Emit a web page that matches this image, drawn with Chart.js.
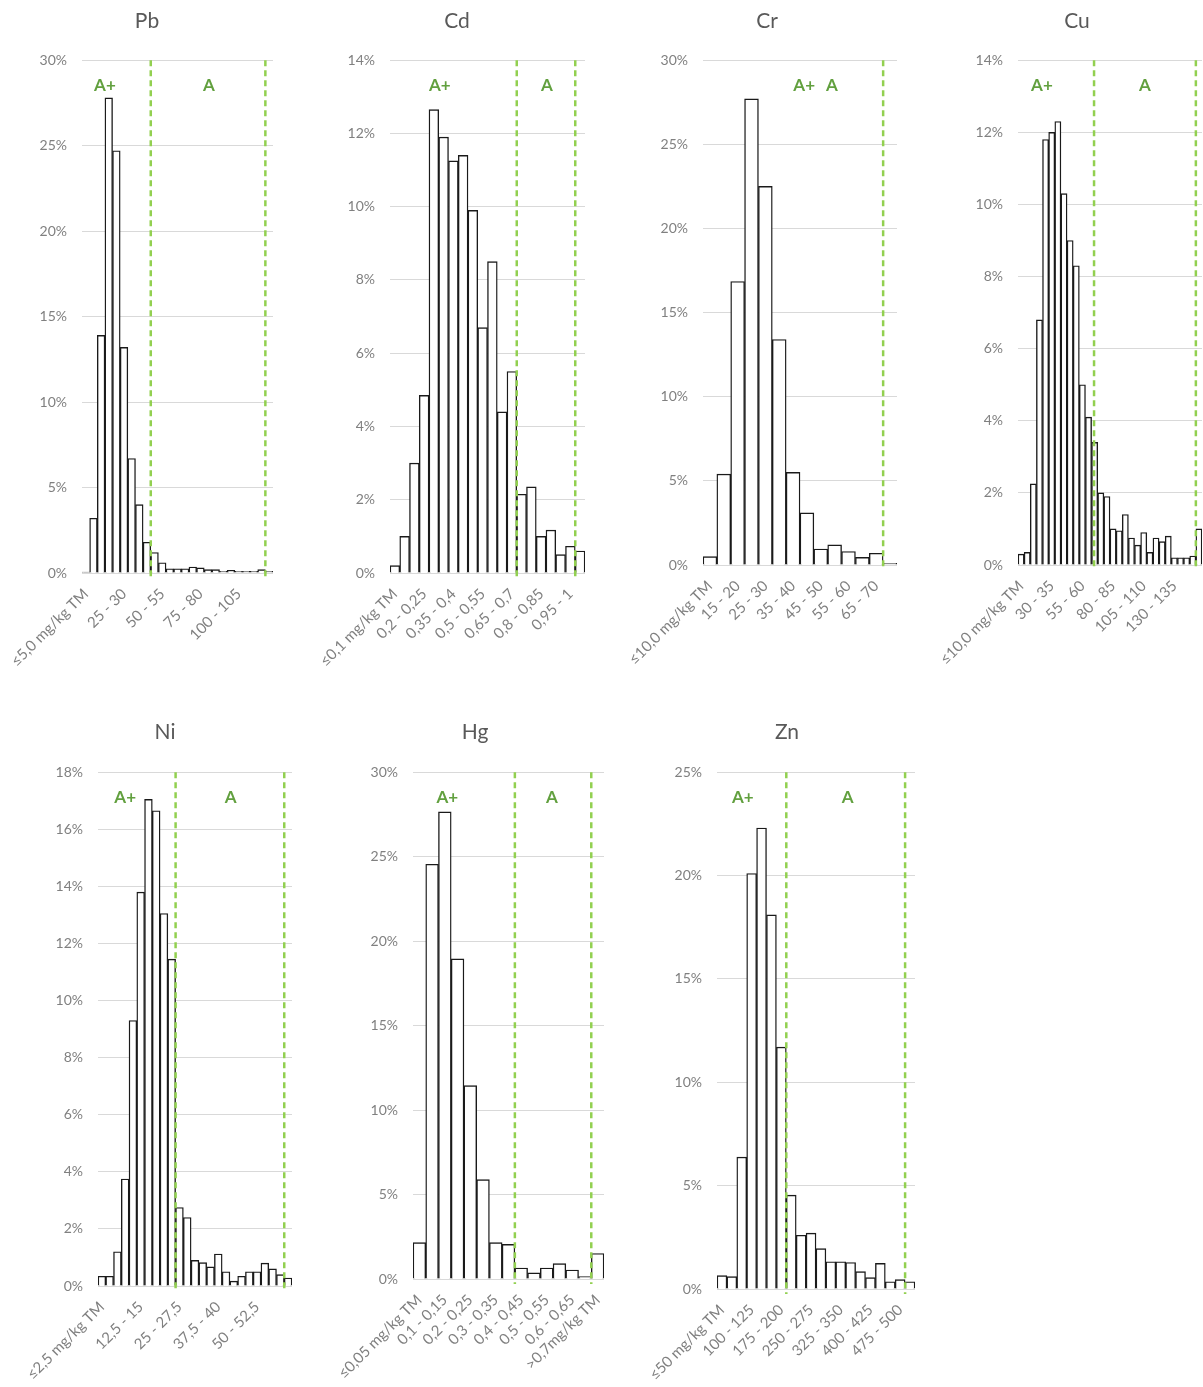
<!DOCTYPE html>
<html>
<head>
<meta charset="utf-8">
<script src="https://cdn.jsdelivr.net/npm/chart.js@4.4.1/dist/chart.umd.min.js"></script>
<style>
  html, body { margin: 0; padding: 0; background: #fff; overflow: hidden; }
  body { width: 1203px; height: 1387px; position: relative; }
  canvas { position: absolute; }
</style>
</head>
<body>
<script>
// histogram data, share of samples (%) per concentration class

const pbLabels = ['≤5,0 mg/kg TM', '5 - 10', '10 - 15', '15 - 20', '20 - 25', '25 - 30', '30 - 35', '35 - 40', '40 - 45', '45 - 50',
  '50 - 55', '55 - 60', '60 - 65', '65 - 70', '70 - 75', '75 - 80', '80 - 85', '85 - 90', '90 - 95', '95 - 100',
  '100 - 105', '105 - 110', '110 - 115', '115 - 120', '>120 mg/kg TM'];
const pbValues = [0.05, 3.2, 13.9, 27.8, 24.7, 13.2, 6.7, 4.0, 1.8, 1.2, 0.6, 0.25, 0.25, 0.25, 0.35, 0.3, 0.2, 0.2, 0.1, 0.15, 0.1, 0.1, 0.1, 0.2, 0.1];
const pbLimits = [9, 24];

const cdLabels = ['≤0,1 mg/kg TM', '0,1 - 0,15', '0,15 - 0,2', '0,2 - 0,25', '0,25 - 0,3', '0,3 - 0,35', '0,35 - 0,4', '0,4 - 0,45', '0,45 - 0,5', '0,5 - 0,55',
  '0,55 - 0,6', '0,6 - 0,65', '0,65 - 0,7', '0,7 - 0,75', '0,75 - 0,8', '0,8 - 0,85', '0,85 - 0,9', '0,9 - 0,95', '0,95 - 1', '>1 mg/kg TM'];
const cdValues = [0.2, 1.0, 3.0, 4.85, 12.65, 11.9, 11.25, 11.4, 9.9, 6.7, 8.5, 4.4, 5.5, 2.15, 2.35, 1.0, 1.17, 0.5, 0.73, 0.6];
const cdLimits = [13, 19];

const crLabels = ['≤10,0 mg/kg TM', '10 - 15', '15 - 20', '20 - 25', '25 - 30', '30 - 35', '35 - 40', '40 - 45', '45 - 50', '50 - 55',
  '55 - 60', '60 - 65', '65 - 70', '>70 mg/kg TM'];
const crValues = [0.5, 5.4, 16.85, 27.7, 22.5, 13.4, 5.5, 3.1, 0.95, 1.2, 0.8, 0.45, 0.7, 0.1];
const crLimits = [13];

const cuLabels = ['≤10,0 mg/kg TM', '10 - 15', '15 - 20', '20 - 25', '25 - 30', '30 - 35', '35 - 40', '40 - 45', '45 - 50', '50 - 55',
  '55 - 60', '60 - 65', '65 - 70', '70 - 75', '75 - 80', '80 - 85', '85 - 90', '90 - 95', '95 - 100', '100 - 105',
  '105 - 110', '110 - 115', '115 - 120', '120 - 125', '125 - 130', '130 - 135', '135 - 140', '140 - 145', '145 - 150', '>150 mg/kg TM'];
const cuValues = [0.3, 0.35, 2.25, 6.8, 11.8, 12.0, 12.3, 10.3, 9.0, 8.3, 5.0, 4.1, 3.4, 2.0, 1.9, 1.0, 0.95, 1.4, 0.75, 0.55,
  0.9, 0.35, 0.75, 0.65, 0.8, 0.2, 0.2, 0.2, 0.25, 1.0];
const cuLimits = [12.4, 29];

const niLabels = ['≤2,5 mg/kg TM', '2,5 - 5', '5 - 7,5', '7,5 - 10', '10 - 12,5', '12,5 - 15', '15 - 17,5', '17,5 - 20', '20 - 22,5', '22,5 - 25',
  '25 - 27,5', '27,5 - 30', '30 - 32,5', '32,5 - 35', '35 - 37,5', '37,5 - 40', '40 - 42,5', '42,5 - 45', '45 - 47,5', '47,5 - 50',
  '50 - 52,5', '52,5 - 55', '55 - 57,5', '57,5 - 60', '>60 mg/kg TM'];
const niValues = [0.34, 0.34, 1.2, 3.75, 9.3, 13.8, 17.05, 16.65, 13.05, 11.45, 2.75, 2.4, 0.9, 0.82, 0.67, 1.12, 0.5, 0.17, 0.34, 0.5,
  0.5, 0.8, 0.6, 0.4, 0.28];
const niLimits = [10, 24];

const hgLabels = ['≤0,05 mg/kg TM', '0,05 - 0,1', '0,1 - 0,15', '0,15 - 0,2', '0,2 - 0,25', '0,25 - 0,3', '0,3 - 0,35', '0,35 - 0,4', '0,4 - 0,45', '0,45 - 0,5',
  '0,5 - 0,55', '0,55 - 0,6', '0,6 - 0,65', '0,65 - 0,7', '>0,7mg/kg TM'];
const hgValues = [2.15, 24.55, 27.65, 18.95, 11.45, 5.88, 2.15, 2.05, 0.65, 0.36, 0.65, 0.91, 0.53, 0.14, 1.51];
const hgLimits = [8, 14];

const znLabels = ['≤50 mg/kg TM', '50 - 75', '75 - 100', '100 - 125', '125 - 150', '150 - 175', '175 - 200', '200 - 225', '225 - 250', '250 - 275',
  '275 - 300', '300 - 325', '325 - 350', '350 - 375', '375 - 400', '400 - 425', '425 - 450', '450 - 475', '475 - 500', '>500 mg/kg TM'];
const znValues = [0.65, 0.6, 6.38, 20.1, 22.3, 18.1, 11.7, 4.54, 2.6, 2.7, 1.95, 1.32, 1.32, 1.28, 0.84, 0.55, 1.24, 0.35, 0.45, 0.35];
const znLimits = [7, 19];

// layout of the seven panels (page pixels), zone label positions in bin units
const panels = [
  { name: 'Pb', labels: pbLabels, values: pbValues, limits: pbLimits, max: 30, step: 5, every: 5, zones: [['A+', 2.5], ['A', 16.1]],
    top: 0, height: 700, plotLeft: 82, plotRight: 273, plotTop: 60, plotBottom: 573, titleX: 147, titleY: 22 },
  { name: 'Cd', labels: cdLabels, values: cdValues, limits: cdLimits, max: 14, step: 2, every: 3, zones: [['A+', 4.6], ['A', 15.6]],
    top: 0, height: 700, plotLeft: 390, plotRight: 585, plotTop: 60, plotBottom: 573, titleX: 457, titleY: 22 },
  { name: 'Cr', labels: crLabels, values: crValues, limits: crLimits, max: 30, step: 5, every: 2, zones: [['A+', 6.8], ['A', 8.8]],
    top: 0, height: 700, plotLeft: 703, plotRight: 897, plotTop: 60, plotBottom: 565, titleX: 767, titleY: 22 },
  { name: 'Cu', labels: cuLabels, values: cuValues, limits: cuLimits, max: 14, step: 2, every: 5, zones: [['A+', 3.4], ['A', 20.2]],
    top: 0, height: 700, plotLeft: 1018, plotRight: 1202, plotTop: 60, plotBottom: 565, titleX: 1077, titleY: 22 },
  { name: 'Ni', labels: niLabels, values: niValues, limits: niLimits, max: 18, step: 2, every: 5, zones: [['A+', 3.0], ['A', 16.6]],
    top: 710, height: 677, plotLeft: 98, plotRight: 292, plotTop: 772, plotBottom: 1286, titleX: 165, titleY: 733 },
  { name: 'Hg', labels: hgLabels, values: hgValues, limits: hgLimits, max: 30, step: 5, every: 2, zones: [['A+', 2.2], ['A', 10.4]],
    top: 710, height: 677, plotLeft: 413, plotRight: 604, plotTop: 772, plotBottom: 1279, titleX: 475, titleY: 733 },
  { name: 'Zn', labels: znLabels, values: znValues, limits: znLimits, max: 25, step: 5, every: 3, zones: [['A+', 2.1], ['A', 12.7]],
    top: 710, height: 677, plotLeft: 717, plotRight: 915, plotTop: 772, plotBottom: 1289, titleX: 787, titleY: 733 }
];

Chart.defaults.font.family = 'Lato, "Open Sans", sans-serif';

// green dashed class limits + A+/A labels
function zonePlugin(p) {
  return {
    id: 'zones',
    afterDatasetsDraw(chart) {
      const ctx = chart.ctx;
      const area = chart.chartArea;
      const x = chart.scales.x;
      ctx.save();
      ctx.strokeStyle = '#92d050';
      ctx.lineWidth = 2.5;
      ctx.setLineDash([6, 4]);
      p.limits.forEach(function(b) {
        const px = x.getPixelForValue(b - 0.5);
        ctx.beginPath();
        ctx.moveTo(px, area.top);
        ctx.lineTo(px, area.bottom + 5);
        ctx.stroke();
      });
      ctx.setLineDash([]);
      ctx.fillStyle = '#62a03f';
      ctx.font = 'bold 17px Lato, sans-serif';
      ctx.textAlign = 'center';
      ctx.textBaseline = 'middle';
      p.zones.forEach(function(z) {
        ctx.fillText(z[0], x.getPixelForValue(z[1]), area.top + 25);
      });
      ctx.restore();
    }
  };
}

panels.forEach(function(p) {
  const yAxisW = 82;
  const left = p.plotLeft - yAxisW;
  const padLeft = 2 * (p.titleX - left) - (p.plotRight - left);
  const padRight = 4;
  const width = p.plotRight - left + padRight;

  const canvas = document.createElement('canvas');
  canvas.width = width;
  canvas.height = p.height;
  canvas.style.left = left + 'px';
  canvas.style.top = p.top + 'px';
  canvas.style.width = width + 'px';
  canvas.style.height = p.height + 'px';
  document.body.appendChild(canvas);

  new Chart(canvas, {
    type: 'bar',
    data: {
      labels: p.labels,
      datasets: [{
        data: p.values,
        backgroundColor: '#ffffff',
        borderColor: '#1a1a1a',
        borderWidth: 1.4,
        barPercentage: 1,
        categoryPercentage: 1
      }]
    },
    options: {
      responsive: false,
      animation: false,
      layout: { padding: { left: padLeft, right: padRight, top: 0, bottom: 0 } },
      plugins: {
        legend: { display: false },
        tooltip: { enabled: false },
        title: {
          display: true,
          text: p.name,
          color: '#595959',
          font: { size: 21, weight: 'normal' },
          padding: { top: p.titleY - p.top - 13, bottom: p.plotTop - p.titleY - 12 }
        }
      },
      scales: {
        x: {
          grid: { display: false },
          border: { display: false },
          ticks: {
            autoSkip: false,
            minRotation: 45,
            maxRotation: 45,
            padding: 4,
            color: '#808080',
            font: { size: 15 },
            callback: function(val, i) {
              return i % p.every === 0 ? this.getLabelForValue(val) : '';
            }
          },
          afterFit: function(s) {
            s.height = p.height - (p.plotBottom - p.top);
            s.paddingLeft = 0;
            s.paddingRight = 0;
          }
        },
        y: {
          min: 0,
          max: p.max,
          grid: { color: '#d9d9d9', drawTicks: false },
          border: { display: false },
          ticks: {
            stepSize: p.step,
            padding: 15,
            color: '#808080',
            font: { size: 14 },
            callback: function(v) { return v + '%'; }
          },
          afterFit: function(s) {
            s.width = yAxisW - padLeft;
            s.paddingTop = 0;
            s.paddingBottom = 0;
          }
        }
      }
    },
    plugins: [zonePlugin(p)]
  });
});
</script>
</body>
</html>
